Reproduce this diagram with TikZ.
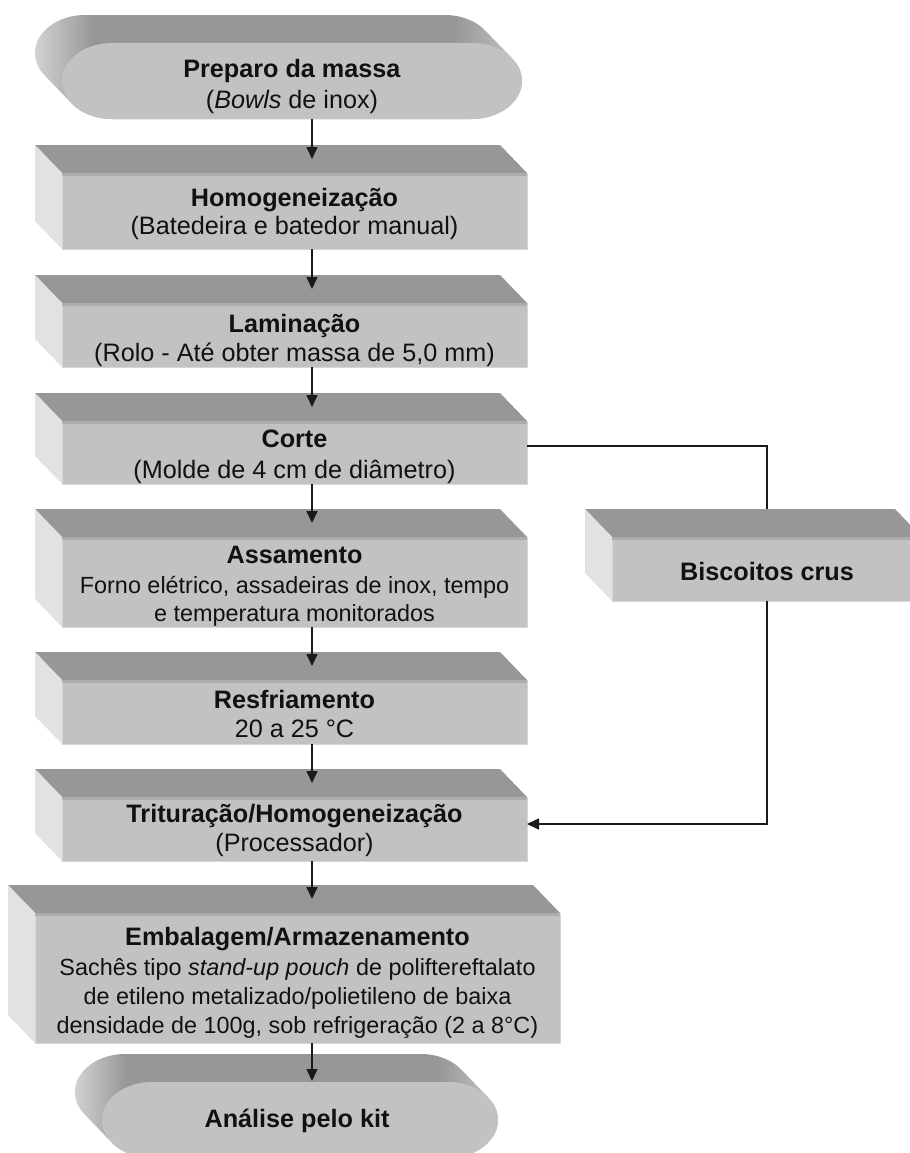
\documentclass[tikz,border=0pt]{standalone}
\usepackage{fontspec}
\setmainfont{Liberation Sans}
\usetikzlibrary{arrows.meta}
\definecolor{frontc}{HTML}{C2C2C2}
\definecolor{topc}{HTML}{979797}
\definecolor{sidec}{HTML}{E2E2E2}
\definecolor{edgec}{HTML}{D6D6D6}
\definecolor{stripc}{HTML}{ADADAD}
\definecolor{extl}{HTML}{D2D2D2}
\definecolor{extr}{HTML}{C6C6C6}
\definecolor{lnc}{HTML}{1A1A1A}
\definecolor{txtc}{HTML}{111111}
\pgfdeclarehorizontalshading{termshade}{100bp}{color(0bp)=(extl); color(25bp)=(extl); color(31bp)=(topc); color(68bp)=(topc); color(75bp)=(extr); color(100bp)=(extr)}
% stadium path with elliptic ends: x0 y0 x1 y1 a
\newcommand\stadpath[5]{%
 ({(#1)+(#5)},{#2}) -- ({(#3)-(#5)},{#2})
 .. controls ({(#3)-0.448*(#5)},{#2}) and ({#3},{((#2)+(#4))/2-0.276*((#4)-(#2))}) .. ({#3},{((#2)+(#4))/2})
 .. controls ({#3},{((#2)+(#4))/2+0.276*((#4)-(#2))}) and ({(#3)-0.448*(#5)},{#4}) .. ({(#3)-(#5)},{#4})
 -- ({(#1)+(#5)},{#4})
 .. controls ({(#1)+0.448*(#5)},{#4}) and ({#1},{((#2)+(#4))/2+0.276*((#4)-(#2))}) .. ({#1},{((#2)+(#4))/2})
 .. controls ({#1},{((#2)+(#4))/2-0.276*((#4)-(#2))}) and ({(#1)+0.448*(#5)},{#2}) .. ({(#1)+(#5)},{#2}) -- cycle}
% terminator: name x0 y0 x1 y1
\newcommand\termshape[5]{%
 \shade[shading=termshade] \foreach \t in {0,...,27}{ \stadpath{#2-\t}{#3-\t*28/27}{#4-\t}{#5-\t*28/27}{50} };
 \fill[frontc] \stadpath{#2}{#3}{#4}{#5}{50};
 \node[shapebox, minimum width={((#4)-(#2))*0.5pt}, minimum height={((#5)-(#3))*0.5pt}] (#1) at ({((#2)+(#4))/2},{((#3)+(#5))/2}) {};
}
% 3d box: name x0 y0 x1 y1
\newcommand\boxthree[5]{%
 \fill[topc] (#2,#3) -- ({#2-27},{#3-28}) -- ({#4-27},{#3-28}) -- (#4,#3) -- cycle;
 \fill[sidec] (#2,#3) -- ({#2-27},{#3-28}) -- ({#2-27},{#5-28}) -- (#2,#5) -- cycle;
 \node[shapebox, fill=frontc, draw=edgec, line width=0.5pt, minimum width={((#4)-(#2))*0.5pt}, minimum height={((#5)-(#3))*0.5pt}] (#1) at ({((#2)+(#4))/2},{((#3)+(#5))/2}) {};
 \fill[stripc] (#2,#3) rectangle (#4,{#3+2.5});
}
% text line: name x baseline-y [font] text
\newcommand\tline[5][]{\node[txt, #1] (#2) at (#3,#4) {#5};}
\tikzset{
 shapebox/.style={rectangle, inner sep=0pt, outer sep=0pt},
 txt/.style={anchor=base, inner sep=0pt, outer sep=0pt, text=txtc, font=\fontsize{12.6}{14}\selectfont},
 body/.style={font=\fontsize{11.7}{14}\selectfont},
 ln/.style={draw=lnc, line width=0.8pt},
 arr/.style={ln, -{Triangle[width=5.5pt,length=6pt]}}
}
\begin{document}
\begin{tikzpicture}[x=0.5pt,y=-0.5pt]
\useasboundingbox (0,0) rectangle (910,1153);
\clip (0,0) rectangle (910,1153);
% shapes
\termshape{t1}{62}{43}{522}{119}
\boxthree{b1}{62}{173}{527}{249}
\boxthree{b2}{62}{303}{527}{367}
\boxthree{b3}{62}{421}{527}{484}
\boxthree{b4}{62}{537}{527}{627}
\boxthree{b5}{62}{680}{527}{744}
\boxthree{b6}{62}{797}{527}{861}
\boxthree{b7}{35}{913}{560}{1043}
\boxthree{bc}{612}{537}{922}{601}
\termshape{t2}{102}{1082}{498}{1158}
% texts
\tline{t1a}{292}{77}{\textbf{Preparo da massa}}
\tline{t1b}{292}{108}{(\textit{Bowls} de inox)}
\tline{b1a}{294.5}{206}{\textbf{Homogeneização}}
\tline{b1b}{294.5}{234}{(Batedeira e batedor manual)}
\tline{b2a}{294.5}{332}{\textbf{Laminação}}
\tline{b2b}{294.5}{361}{(Rolo - Até obter massa de 5,0 mm)}
\tline{b3a}{294.5}{447}{\textbf{Corte}}
\tline{b3b}{294.5}{478}{(Molde de 4 cm de diâmetro)}
\tline{b4a}{294.5}{563}{\textbf{Assamento}}
\tline[body]{b4b}{294.5}{593}{Forno elétrico, assadeiras de inox, tempo}
\tline[body]{b4c}{294.5}{621}{e temperatura monitorados}
\tline{b5a}{294.5}{708}{\textbf{Resfriamento}}
\tline{b5b}{294.5}{737}{20 a 25 °C}
\tline{b6a}{294.5}{822}{\textbf{Trituração/Homogeneização}}
\tline{b6b}{294.5}{851}{(Processador)}
\tline{b7a}{297.5}{945}{\textbf{Embalagem/Armazenamento}}
\tline[body]{b7b}{297.5}{975}{Sachês tipo \textit{stand-up pouch} de poliftereftalato}
\tline[body]{b7c}{297.5}{1004}{de etileno metalizado/polietileno de baixa}
\tline[body]{b7d}{297.5}{1033}{densidade de 100g, sob refrigeração (2 a 8°C)}
\tline{bca}{767}{580}{\textbf{Biscoitos crus}}
\tline{t2a}{297}{1127}{\textbf{Análise pelo kit}}
% connection points
\coordinate (b1in) at (312,159);
\coordinate (b2in) at (312,289);
\coordinate (b3in) at (312,407);
\coordinate (b4in) at (312,523);
\coordinate (b5in) at (312,666);
\coordinate (b6in) at (312,783);
\coordinate (b7in) at (312,899);
\coordinate (t2in) at (312,1081);
\coordinate (cout) at (527,446);
\coordinate (bcin) at (767,509);
\coordinate (b6r) at (527,824);
\draw[arr] (t1.south -| b1in) -- (b1in);
\draw[arr] (b1.south -| b2in) -- (b2in);
\draw[arr] (b2.south -| b3in) -- (b3in);
\draw[arr] (b3.south -| b4in) -- (b4in);
\draw[arr] (b4.south -| b5in) -- (b5in);
\draw[arr] (b5.south -| b6in) -- (b6in);
\draw[arr] (b6.south -| b7in) -- (b7in);
\draw[arr] (b7.south -| t2in) -- (t2in);
\draw[ln] (cout) -| (bcin);
\draw[arr] (bc.south) -- (bc.south |- b6r) -- (b6r);
\end{tikzpicture}
\end{document}
